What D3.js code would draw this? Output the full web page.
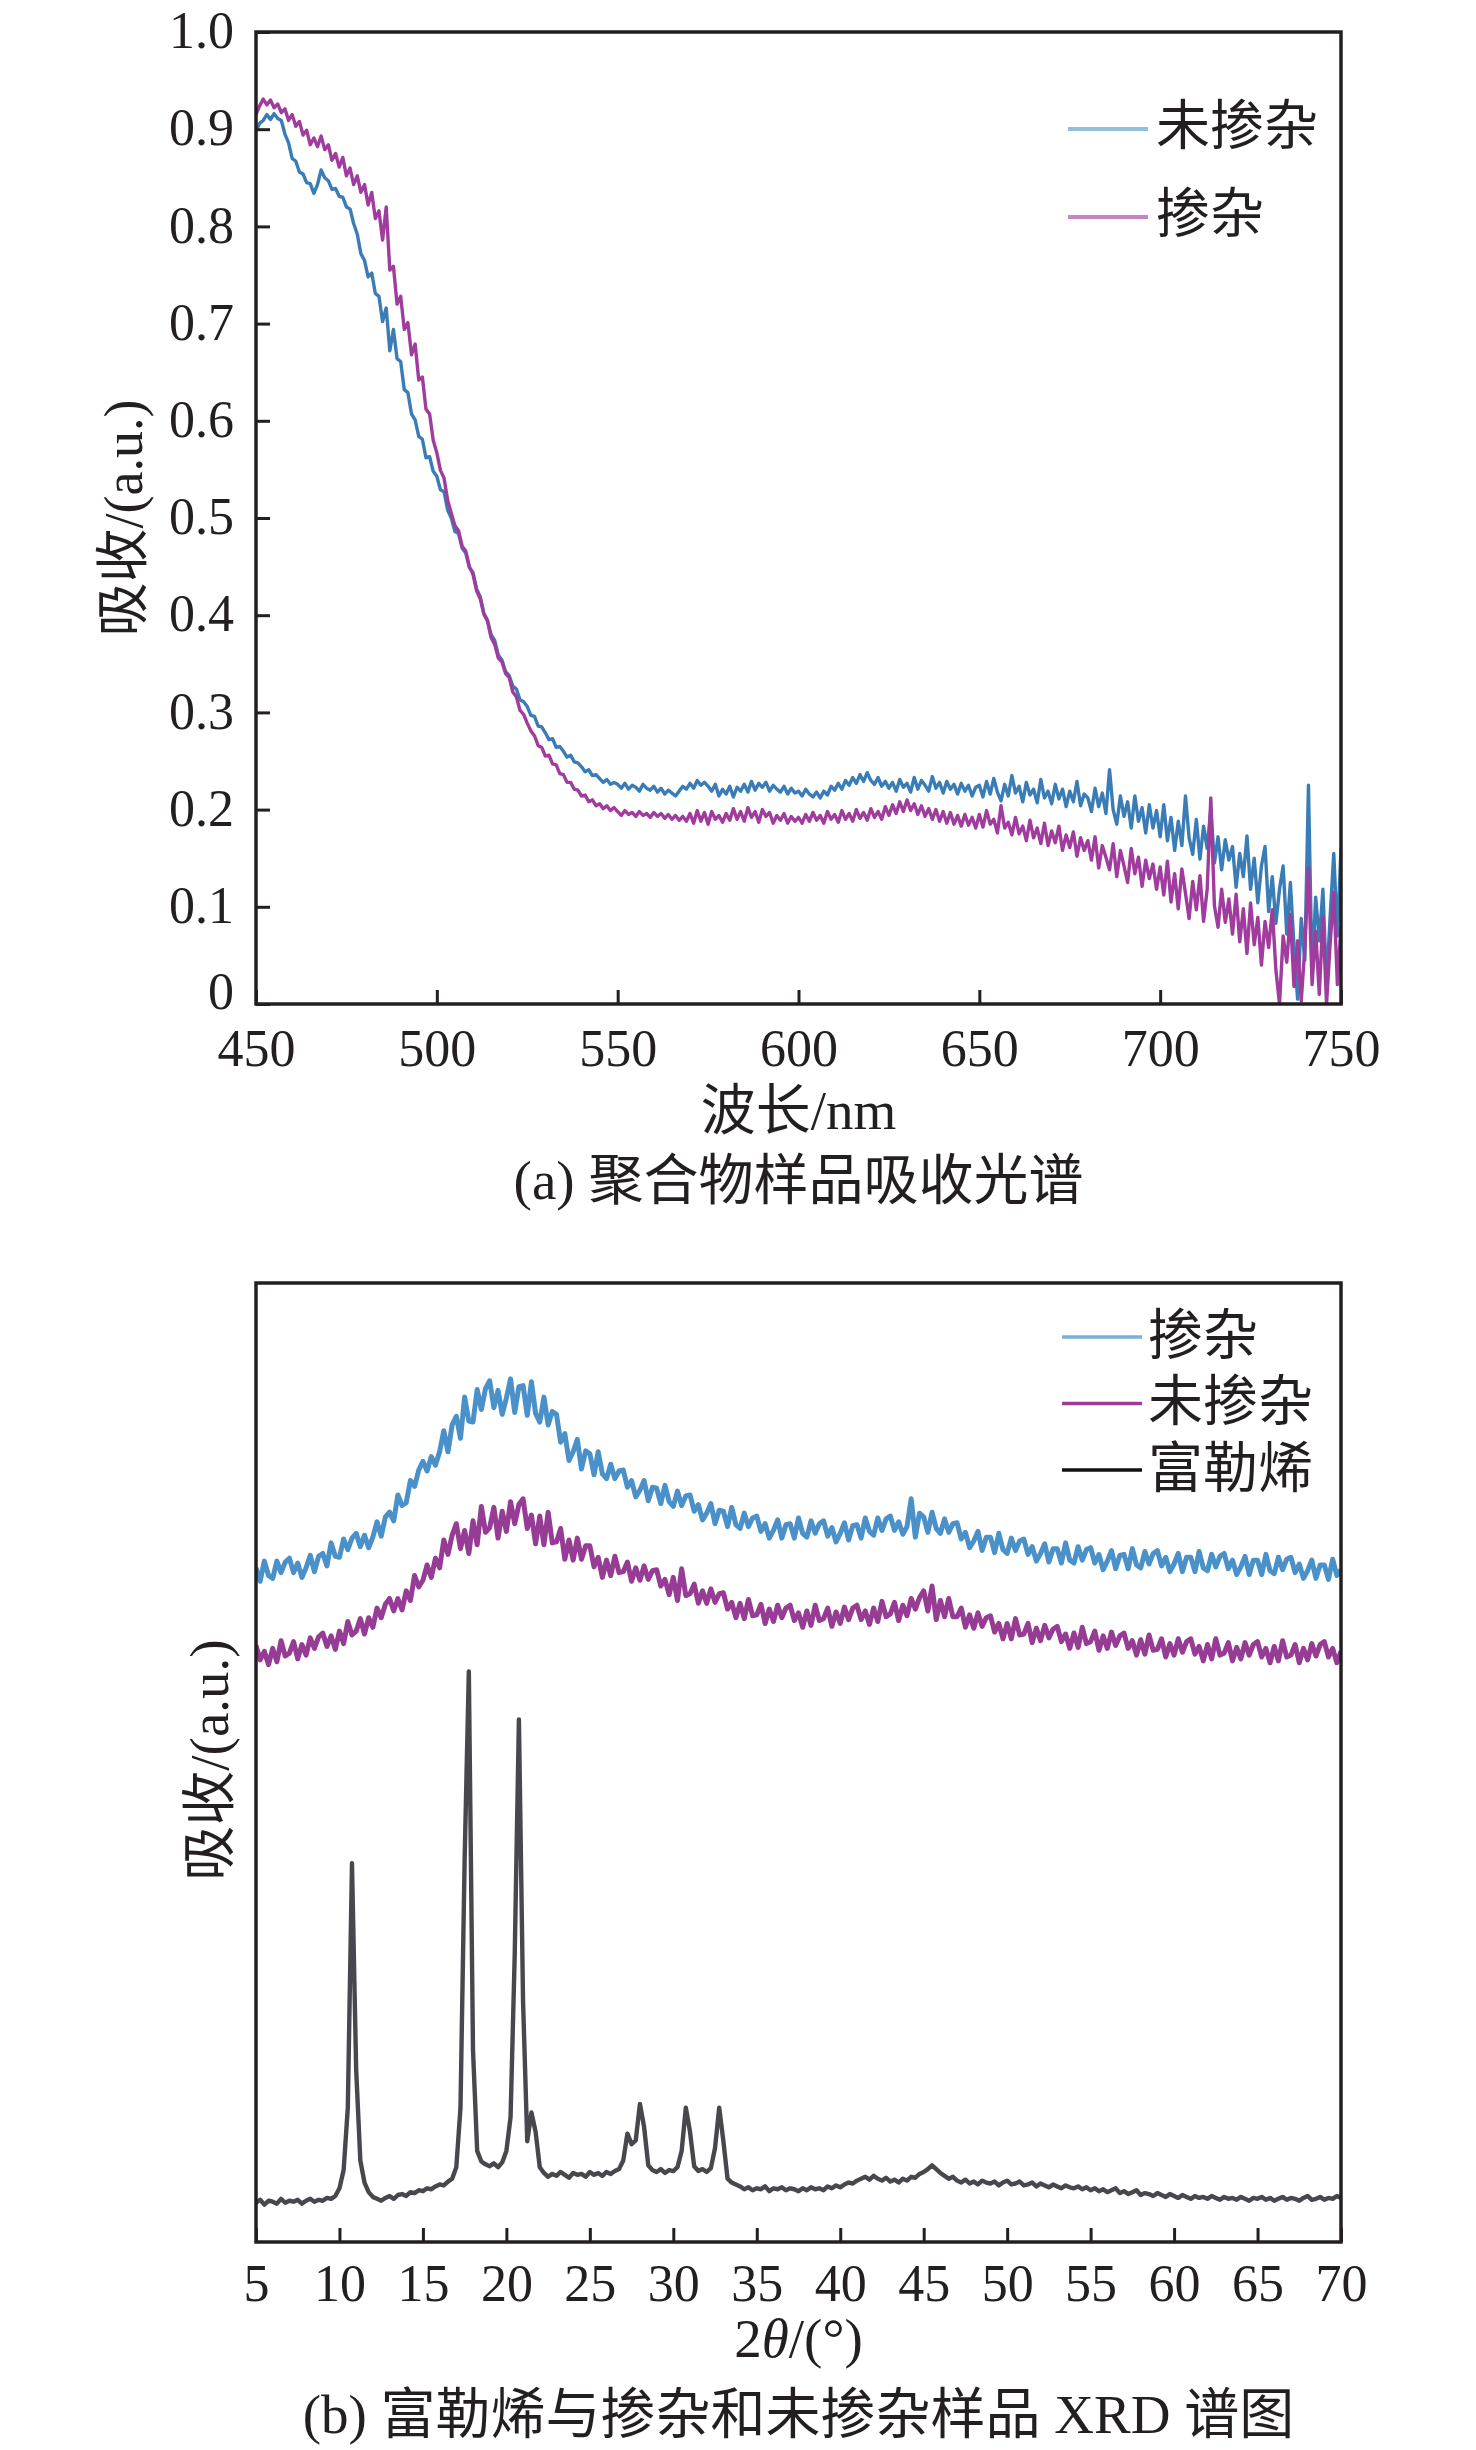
<!DOCTYPE html>
<html><head><meta charset="utf-8">
<script src="https://cdn.jsdelivr.net/npm/d3@7"></script>
<style>body{margin:0;background:#fff}</style>
</head><body>
<svg id="c" width="1476" height="2450" xmlns="http://www.w3.org/2000/svg"></svg>
<script>
// ---------- Panel (a): absorption spectra, 450–750 nm, 1 nm step ----------
const absWaveRange = [450, 750];
const absUndoped = [ // 未掺杂 (blue)
.898,.906,.909,.915,.910,.916,.911,.909,.895,.886,.870,.867,.856,.854,.845,.844,.834,.843,.858,.850,.847,.838,.839,.831,.830,.820,.818,.803,.792,.772,
.765,.748,.752,.731,.728,.702,.716,.672,.694,.664,.661,.632,.629,.607,.601,.584,.581,.562,.563,.548,
.543,.529,.527,.508,.500,.486,.484,.469,.464,.449,.444,.427,.419,.402,.395,.380,.374,.359,.354,.342,.338,.327,.324,.313,.311,
.306,.297,.296,.286,.285,.279,.272,.273,.264,.265,.260,.254,.256,.249,.248,.244,.239,.241,.235,.236,.232,.228,.231,.226,.228,
.226,.222,.227,.221,.225,.223,.219,.226,.222,.220,.224,.218,.222,.216,.220,.217,.214,.219,.224,.221,.227,.222,.230,.225,.228,.224,.219,.226,.214,.221,.216,.224,.213,.223,.219,.226,.218,.229,.220,.227,.223,.228,.219,.225,.221,.218,.224,.216,.222,.217,
.219,.214,.221,.216,.213,.218,.212,.219,.215,.224,.220,.227,.221,.230,.225,.233,.227,.236,.229,.238,.230,.226,.233,.224,.229,.222,.228,.219,.231,.223,.227,.218,.233,.221,.230,.225,.219,.234,.222,.228,.217,.229,.221,.226,.216,.227,.219,.225,.214,.223,
.225,.213,.229,.216,.232,.218,.209,.226,.214,.235,.217,.224,.208,.228,.215,.221,.207,.231,.212,.219,.206,.226,.211,.221,.203,.219,.208,.229,.204,.216,
.212,.198,.222,.203,.217,.196,.241,.200,.185,.214,.193,.208,.181,.214,.188,.202,.176,.205,.181,.199,
.172,.205,.168,.192,.158,.188,.163,.214,.171,.154,.190,.149,.183,.160,.201,.145,.172,.138,.169,.148,
.162,.120,.155,.131,.173,.118,.150,.104,.142,.162,.095,.131,.083,.118,.142,
.072,.125,.060,.005,.088,.045,.225,.030,.110,.065,.118,.020,.090,.155,.070,.160
];
const absDoped = [ // 掺杂 (magenta)
.915,.924,.931,.925,.930,.922,.926,.917,.921,.909,.915,.903,.908,.894,.899,.884,.891,.882,.893,.879,.884,.868,.875,.861,.871,.852,.860,.843,.852,.835,
.843,.822,.835,.808,.816,.786,.820,.755,.759,.720,.728,.694,.701,.668,.679,.642,.645,.612,.607,.580,
.567,.549,.541,.518,.505,.492,.487,.471,.466,.450,.442,.425,.417,.401,.394,.377,.370,.356,.352,.340,.336,.321,.316,.302,.298,
.289,.281,.276,.266,.264,.255,.256,.247,.246,.237,.236,.228,.228,.221,.220,.214,.215,.208,.210,.204,.206,.201,.204,.199,.202,
.198,.194,.199,.195,.197,.193,.198,.194,.196,.192,.197,.193,.196,.191,.195,.190,.194,.189,.193,.188,.196,.186,.199,.188,.197,.185,.198,.190,.194,.187,.196,.189,.201,.190,.198,.188,.202,.192,.198,.187,.200,.193,.197,.186,.194,.189,.196,.186,.193,.188,
.192,.186,.195,.188,.197,.189,.194,.186,.198,.190,.195,.187,.199,.190,.196,.188,.200,.191,.197,.189,.201,.192,.198,.190,.203,.194,.205,.196,.208,.198,.210,.199,.206,.195,.204,.193,.201,.190,.200,.188,.198,.186,.197,.185,.194,.183,.195,.184,.192,.181,
.195,.182,.199,.185,.190,.176,.204,.181,.187,.174,.192,.175,.183,.168,.189,.171,.181,.165,.186,.163,.178,.166,.183,.158,.174,.161,.177,.152,.171,.158,
.168,.148,.172,.140,.163,.151,.138,.165,.131,.158,.142,.125,.160,.134,.151,.121,.148,.129,.144,.118,
.141,.112,.147,.105,.134,.098,.139,.114,.088,.126,.097,.132,.085,.118,.212,.101,.079,.118,.084,.108,
.072,.113,.064,.098,.052,.104,.061,.089,.040,.085,.058,.097,.035,.000,.070,
.043,.092,.018,.065,.003,.058,.140,.020,.075,.010,.090,.000,.062,.115,.020,.080
];
const absXTicks = [450, 500, 550, 600, 650, 700, 750];
const absYTicks = [0, 0.1, 0.2, 0.3, 0.4, 0.5, 0.6, 0.7, 0.8, 0.9, 1.0];
const absYTickLabels = ["0", "0.1", "0.2", "0.3", "0.4", "0.5", "0.6", "0.7", "0.8", "0.9", "1.0"];
const absLegend = ["未掺杂", "掺杂"];

// ---------- Panel (b): XRD, 5–70°, 0.25° step ----------
const xrdRange = [5, 70];
const xrdDoped = [ // 掺杂 (blue)
70.3,68.9,71.0,69.5, 69.2,71.0,69.8,70.9, 71.3,69.8,70.8,69.3, 70.3,71.6,69.9,71.5, 71.8,70.5,72.9,71.5,
71.4,73.3,72.2,73.4, 73.9,72.5,73.7,72.4, 73.5,75.1,73.6,75.6, 76.1,75.2,77.9,76.8, 77.1,79.4,78.8,80.5,
81.4,80.4,81.9,81.0, 82.4,84.6,82.4,85.2, 86.1,83.8,88.1,85.6, 85.5,88.9,86.8,89.0, 89.8,87.0,88.8,86.3,
88.0,90.0,86.5,89.2, 89.3,86.2,89.7,86.4, 85.5,88.1,85.2,86.6, 86.3,83.4,84.3,81.5, 82.4,83.7,80.6,82.5,
82.2,80.0,82.4,80.1, 79.6,81.1,79.6,80.4, 80.5,78.7,79.4,77.7, 78.4,79.4,77.3,78.7, 78.6,77.0,78.9,77.2,
76.7,78.3,76.8,77.8, 77.9,76.2,76.9,75.3, 76.0,77.0,74.9,76.3, 76.2,74.6,76.6,74.8, 74.4,76.0,74.6,75.5,
75.7,74.1,74.9,73.4, 74.2,75.3,73.4,74.8, 74.9,73.4,75.5,73.9, 73.5,75.2,73.9,74.9, 75.2,73.6,74.5,73.0,
73.9,75.0,73.2,74.7, 74.8,73.4,75.5,74.1, 73.7,75.5,74.2,75.4, 75.7,74.2,75.1,73.8, 74.6,77.5,73.5,76.0,
75.6,74.0,76.1,74.4, 73.9,75.4,74.0,74.9, 75.0,73.3,74.0,72.4, 73.1,74.1,72.1,73.5, 73.5,71.9,73.9,72.2,
71.8,73.4,72.1,73.1, 73.3,71.7,72.5,71.0, 71.8,72.8,70.9,72.3, 72.3,70.8,72.9,71.1, 70.8,72.5,71.1,72.2,
72.4,70.8,71.7,70.1, 71.0,72.1,70.2,71.6, 71.7,70.2,72.3,70.6, 70.3,72.0,70.7,71.8, 72.1,70.5,71.4,69.9,
70.7,71.8,69.9,71.4, 71.4,69.9,72.0,70.3, 70.0,71.7,70.4,71.5, 71.8,70.2,71.1,69.6, 70.4,71.5,69.6,71.1,
71.1,69.6,71.7,70.0, 69.7,71.4,70.1,71.2, 71.4,69.8,70.7,69.2, 70.0,71.1,69.2,70.6, 70.6,69.1,71.2,69.5,
70.1
];
const xrdUndoped = [ // 未掺杂 (magenta)
62.2,60.7,61.6,60.2, 61.9,60.5,62.7,61.1, 61.4,62.6,60.8,62.3, 61.2,63.0,61.9,63.1, 63.5,62.1,63.2,61.8,
63.7,62.4,64.7,63.3, 63.7,65.0,63.4,65.1, 64.1,66.1,65.1,66.5, 67.1,65.8,67.1,65.9, 67.9,66.9,69.5,68.3,
69.0,70.6,69.3,71.3, 70.3,73.2,71.7,73.7, 74.9,72.3,74.2,71.8, 75.2,72.7,76.7,74.0, 74.5,76.6,73.4,76.2,
74.1,77.2,74.9,76.9, 77.5,74.4,75.8,72.8, 75.7,72.7,76.1,72.9, 73.0,74.4,71.2,73.2, 71.1,73.4,71.2,72.6,
72.6,70.4,71.4,69.3, 71.1,69.5,71.5,69.8, 69.9,70.9,68.9,70.3, 69.0,70.5,69.1,70.0, 70.1,68.4,69.1,67.5,
69.3,66.9,70.2,67.4, 67.6,68.6,66.6,67.9, 66.6,68.1,66.7,67.6, 67.7,66.0,66.7,65.1, 66.6,65.0,67.0,65.3,
65.4,66.5,64.5,66.0, 64.7,66.4,65.1,66.1, 66.4,64.8,65.6,64.1, 65.8,64.3,66.4,64.8, 65.0,66.1,64.2,65.7,
64.5,66.2,64.9,66.1, 66.4,64.9,65.8,64.4, 66.1,64.7,66.8,65.2, 65.5,66.7,64.8,66.4, 65.3,67.1,66.0,67.2,
67.9,65.8,68.4,64.9, 66.9,65.2,67.1,65.2, 65.2,66.1,64.1,65.4, 64.0,65.6,64.2,65.1, 65.3,63.6,64.5,62.9,
64.5,62.9,65.0,63.3, 63.4,64.5,62.5,64.0, 62.7,64.3,63.0,63.9, 64.2,62.6,63.4,61.9, 63.5,62.0,64.1,62.4,
62.6,63.7,61.7,63.2, 61.9,63.6,62.2,63.2, 63.5,61.9,62.7,61.2, 62.8,61.3,63.3,61.7, 61.8,62.9,61.0,62.4,
61.2,62.9,61.5,62.6, 62.9,61.3,62.1,60.6, 62.3,60.8,62.9,61.2, 61.4,62.5,60.6,62.0, 60.8,62.5,61.2,62.3,
62.6,61.0,61.9,60.4, 62.1,60.6,62.7,61.0, 61.2,62.3,60.4,61.9, 60.7,62.4,61.1,62.3, 62.6,61.0,61.9,60.4,
61.6
];
const xrdFullerene = [ // 富勒烯 (black)
4.1,4.4,3.9,4.3,4.2,4.0,4.5,4.1,4.3,4.2,4.4,4.0,4.3,4.5,4.2,4.4,4.3,4.6,4.5,4.8,
5.6,7.5,14,39.5,18,8.5,6.2,5.2,
4.7,4.5,4.3,4.6,4.8,4.5,4.9,5.0,4.8,5.2,5.1,5.4,5.3,5.6,5.5,5.8,6.0,5.9,6.3,6.6,
7.8,14,40,59.5,20,9.5,8.4,8.1,7.9,8.2,7.8,8.3,9.5,13,30,54.5,25,10.5,13.5,11.5,7.8,
7.2,6.8,7.1,6.9,7.3,7.0,6.7,7.2,7.0,7.1,6.8,7.3,7.0,7.2,6.9,7.3,7.1,7.4,7.6,
8.5,11.3,10.2,10.6,14.4,12.0,8.0,7.5,7.3,7.6,7.2,7.5,7.4,7.8,9.5,14.0,11.5,7.9,7.4,7.6,7.3,7.7,9.8,14.0,10.5,6.6,6.2,6.0,
5.8,5.5,5.7,5.4,5.6,5.5,5.8,5.3,5.6,5.5,5.7,5.4,5.6,5.5,5.3,5.6,5.4,5.7,5.5,5.6,5.4,5.8,5.6,5.9,5.7,6.0,6.2,6.1,
6.4,6.6,6.8,6.5,6.9,6.6,6.4,6.7,6.3,6.5,6.2,6.6,6.4,6.8,6.7,7.1,
7.3,7.6,8.0,7.6,7.2,6.9,6.6,6.8,
6.4,6.2,6.5,6.1,6.3,6.0,6.4,6.2,6.1,6.3,5.9,6.2,6.4,6.0,6.1,6.3,5.9,6.0,6.2,5.8,6.1,5.9,5.7,6.0,5.8,5.6,5.9,5.7,5.6,5.8,5.5,5.7,
5.4,5.6,5.3,5.5,5.2,5.4,5.6,5.1,5.3,5.0,5.2,5.4,4.9,5.1,5.0,4.8,5.1,4.9,4.7,5.0,4.8,4.6,4.9,4.7,4.5,4.8,4.6,4.7,4.5,4.8,4.6,4.4,4.7,4.5,4.6,4.4,4.7,4.5,4.3,4.6,
4.5,4.7,4.4,4.6,4.3,4.5,4.7,4.4,4.6,4.5,4.3,4.6,4.8,4.4,4.5,4.7,4.4,4.6,4.5,4.8,4.6
];
const xrdXTicks = [5, 10, 15, 20, 25, 30, 35, 40, 45, 50, 55, 60, 65, 70];
const xrdLegend = ["掺杂", "未掺杂", "富勒烯"];

// ---------- drawing ----------
const FONT = '"Liberation Serif","Times New Roman","Noto Sans CJK SC",serif';
const INK = "#231f20";
const svg = d3.select("#c");
svg.append("rect").attr("width", 1476).attr("height", 2450).attr("fill", "#fff");

function seriesLine(x, y, arr, range) {
  const step = (range[1] - range[0]) / (arr.length - 1);
  return d3.line().x((d, i) => x(range[0] + i * step)).y(d => y(d))(arr);
}

function styleAxis(g, size) {
  g.select(".domain").remove();
  g.selectAll(".tick line").attr("stroke", INK).attr("stroke-width", 3);
  g.selectAll(".tick text").attr("fill", INK).attr("font-family", FONT).attr("font-size", size);
}

// Panel A
{
  const L = 256, R = 1341, T = 32, B = 1004;
  const x = d3.scaleLinear().domain(absWaveRange).range([L, R]);
  const y = d3.scaleLinear().domain([0, 1]).range([B, T]);
  svg.append("clipPath").attr("id", "clipA").append("rect").attr("x", L).attr("y", T).attr("width", R - L).attr("height", B - T);
  const gl = svg.append("g").attr("clip-path", "url(#clipA)");
  gl.append("path").attr("d", seriesLine(x, y, absUndoped, absWaveRange)).attr("fill", "none")
    .attr("stroke", "#3a7cb6").attr("stroke-width", 3.4).attr("stroke-linejoin", "round");
  gl.append("path").attr("d", seriesLine(x, y, absDoped, absWaveRange)).attr("fill", "none")
    .attr("stroke", "#a03c9d").attr("stroke-width", 3.4).attr("stroke-linejoin", "round");

  const gx = svg.append("g").attr("transform", `translate(0,${B})`)
    .call(d3.axisBottom(x).tickValues(absXTicks).tickSize(-14).tickPadding(25).tickFormat(d3.format("d")));
  styleAxis(gx, 52);
  const gy = svg.append("g").attr("transform", `translate(${L},0)`)
    .call(d3.axisLeft(y).tickValues(absYTicks).tickSize(-14).tickPadding(22).tickFormat((d, i) => absYTickLabels[i]));
  styleAxis(gy, 52);
  gy.selectAll(".tick text").attr("dy", (d, i) => i === 0 ? "0.08em" : "0.3em");

  svg.append("rect").attr("x", L).attr("y", T).attr("width", R - L).attr("height", B - T)
    .attr("fill", "none").attr("stroke", INK).attr("stroke-width", 3.5);

  // legend
  const legColors = ["#93bfd9", "#c982c3"];
  absLegend.forEach((t, i) => {
    const yy = 129 + i * 88;
    svg.append("line").attr("x1", 1068).attr("x2", 1148).attr("y1", yy).attr("y2", yy)
      .attr("stroke", legColors[i]).attr("stroke-width", 4);
    svg.append("text").attr("x", 1156).attr("y", yy - 2).attr("dominant-baseline", "central")
      .attr("font-family", FONT).attr("font-size", 54).attr("fill", INK).text(t);
  });

  svg.append("text").attr("transform", `translate(124,${(T + B) / 2}) rotate(-90)`)
    .attr("text-anchor", "middle").attr("dominant-baseline", "central")
    .attr("font-family", FONT).attr("font-size", 54).attr("fill", INK).text("吸收/(a.u.)");
  svg.append("text").attr("x", (L + R) / 2).attr("y", 1129).attr("text-anchor", "middle")
    .attr("font-family", FONT).attr("font-size", 55).attr("fill", INK).text("波长/nm");
  svg.append("text").attr("x", (L + R) / 2).attr("y", 1199).attr("text-anchor", "middle")
    .attr("font-family", FONT).attr("font-size", 55).attr("fill", INK).text("(a) 聚合物样品吸收光谱");
}

// Panel B
{
  const L = 256, R = 1341, T = 1283, B = 2242;
  const x = d3.scaleLinear().domain(xrdRange).range([L, R]);
  const y = d3.scaleLinear().domain([0, 100]).range([B, T]);
  svg.append("clipPath").attr("id", "clipB").append("rect").attr("x", L).attr("y", T).attr("width", R - L).attr("height", B - T);
  const gl = svg.append("g").attr("clip-path", "url(#clipB)");
  gl.append("path").attr("d", seriesLine(x, y, xrdDoped, xrdRange)).attr("fill", "none")
    .attr("stroke", "#4a90c9").attr("stroke-width", 5).attr("stroke-linejoin", "round");
  gl.append("path").attr("d", seriesLine(x, y, xrdUndoped, xrdRange)).attr("fill", "none")
    .attr("stroke", "#973c95").attr("stroke-width", 5).attr("stroke-linejoin", "round");
  gl.append("path").attr("d", seriesLine(x, y, xrdFullerene, xrdRange)).attr("fill", "none")
    .attr("stroke", "#47474d").attr("stroke-width", 4.4).attr("stroke-linejoin", "round");

  const gx = svg.append("g").attr("transform", `translate(0,${B})`)
    .call(d3.axisBottom(x).tickValues(xrdXTicks).tickSize(-14).tickPadding(22).tickFormat(d3.format("d")));
  styleAxis(gx, 52);

  svg.append("rect").attr("x", L).attr("y", T).attr("width", R - L).attr("height", B - T)
    .attr("fill", "none").attr("stroke", INK).attr("stroke-width", 3.5);

  const legColors = ["#7ab0d8", "#9b3c96", "#111111"];
  xrdLegend.forEach((t, i) => {
    const yy = 1337 + i * 66.5;
    svg.append("line").attr("x1", 1062).attr("x2", 1142).attr("y1", yy).attr("y2", yy)
      .attr("stroke", legColors[i]).attr("stroke-width", 3.5);
    svg.append("text").attr("x", 1148).attr("y", yy - 2).attr("dominant-baseline", "central")
      .attr("font-family", FONT).attr("font-size", 55).attr("fill", INK).text(t);
  });

  svg.append("text").attr("transform", `translate(209,1760) rotate(-90)`)
    .attr("text-anchor", "middle").attr("dominant-baseline", "central")
    .attr("font-family", FONT).attr("font-size", 55).attr("fill", INK).text("吸收/(a.u.)");
  const xt = svg.append("text").attr("x", (L + R) / 2).attr("y", 2357).attr("text-anchor", "middle")
    .attr("font-family", FONT).attr("font-size", 55).attr("fill", INK);
  xt.append("tspan").text("2");
  xt.append("tspan").attr("font-style", "italic").text("θ");
  xt.append("tspan").text("/(°)");
  svg.append("text").attr("x", (L + R) / 2).attr("y", 2433).attr("text-anchor", "middle")
    .attr("font-family", FONT).attr("font-size", 55).attr("fill", INK).text("(b) 富勒烯与掺杂和未掺杂样品 XRD 谱图");
}
</script>
</body></html>
